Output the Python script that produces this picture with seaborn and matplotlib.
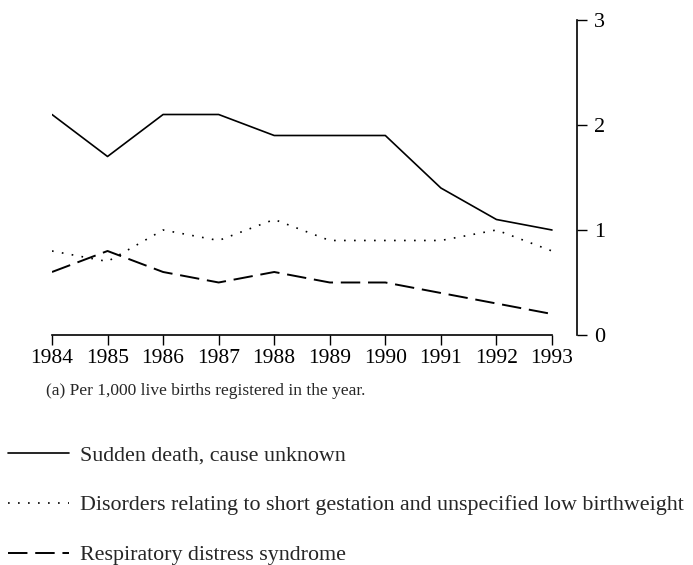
import numpy as np
import seaborn as sns
import matplotlib.pyplot as plt

# infant deaths per 1,000 live births, by cause
years = [1984, 1985, 1986, 1987, 1988, 1989, 1990, 1991, 1992, 1993]
sudden_death = [2.1, 1.7, 2.1, 2.1, 1.9, 1.9, 1.9, 1.4, 1.1, 1.0]
short_gestation = [0.8, 0.7, 1.0, 0.9, 1.1, 0.9, 0.9, 0.9, 1.0, 0.8]
resp_distress = [0.6, 0.8, 0.6, 0.5, 0.6, 0.5, 0.5, 0.4, 0.3, 0.2]

labels = ["Sudden death, cause unknown",
          "Disorders relating to short gestation and unspecified low birthweight",
          "Respiratory distress syndrome"]
y_ticks = [0, 1, 2, 3]
footnote = "(a) Per 1,000 live births registered in the year."

sns.set_style("white")
plt.rcParams["font.family"] = ["Liberation Serif", "DejaVu Serif"]

fig = plt.figure(figsize=(6.93, 5.65), dpi=100)
ax = fig.add_axes([0.075, 0.4071, 0.7576, 0.5575])

sns.lineplot(x=years, y=sudden_death, ax=ax, color="k", lw=1.2,
             label=labels[0])
sns.lineplot(x=years, y=short_gestation, ax=ax, color="k", lw=1.2,
             linestyle=(0, (1, 5)), label=labels[1])
sns.lineplot(x=years, y=resp_distress, ax=ax, color="k", lw=1.4,
             linestyle=(0, (10, 4)), label=labels[2])

ax.set_xlim(1984, 1993.45)
ax.set_ylim(0, 3)
ax.set_xticks(years)
ax.set_yticks(y_ticks)
ax.set_xlabel("")
ax.set_ylabel("")

# bottom line stops at 1993, y axis only on the right
for side in ["top", "left"]:
    ax.spines[side].set_visible(False)
ax.spines["bottom"].set_bounds(1984, 1993)
for side in ["bottom", "right"]:
    ax.spines[side].set_color("k")
    ax.spines[side].set_linewidth(1.2)
ax.yaxis.tick_right()
ax.tick_params(axis="x", bottom=True, direction="out", length=7, width=1.0,
               colors="k", labelsize=15.5, pad=3)
ax.tick_params(axis="y", right=True, left=False, direction="out", length=7,
               width=1.0, colors="k", labelsize=16, pad=5)
ax.grid(False)

fig.text(46 / 693, 1 - 391 / 565, footnote, fontsize=12.5, va="center",
         ha="left")

handles, lbls = ax.get_legend_handles_labels()
ax.get_legend().remove()
fig.legend(handles, lbls, loc="upper left", bbox_to_anchor=(8 / 693, 1 - 445 / 565),
           frameon=False, fontsize=15.8, handlelength=2.8, handletextpad=0.5,
           labelspacing=1.35, borderpad=0, borderaxespad=0)

fig.savefig("out.png", dpi=100)
